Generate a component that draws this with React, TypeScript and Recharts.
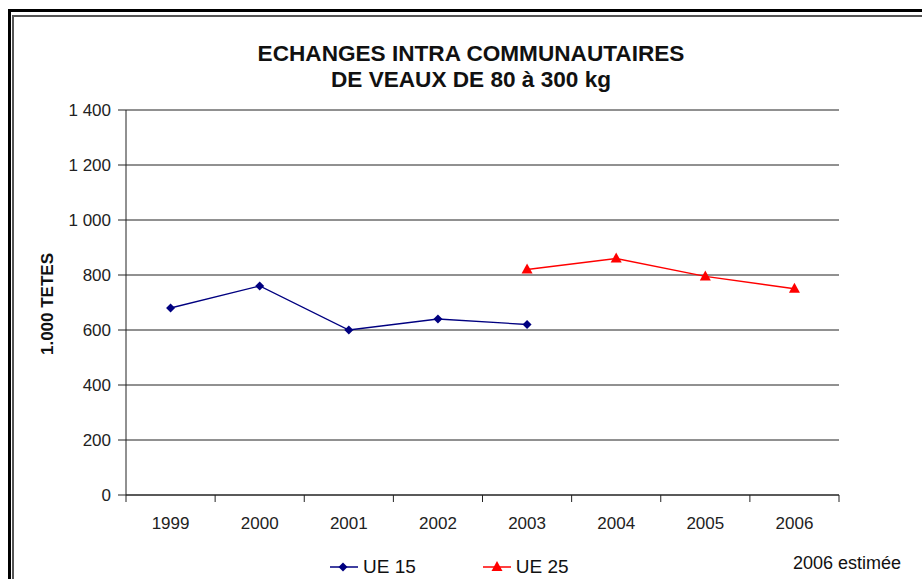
import React from 'react'
import { LineChart, Line, XAxis, YAxis, CartesianGrid } from 'recharts'

const years = ['1999', '2000', '2001', '2002', '2003', '2004', '2005', '2006']
const ue15 = [680, 760, 600, 640, 620, null, null, null]
const ue25 = [null, null, null, null, 820, 860, 795, 750]
const yTicks = [0, 200, 400, 600, 800, 1000, 1200, 1400]

const data = years.map((year, i) => ({ year, ue15: ue15[i], ue25: ue25[i] }))

const FONT = '"Liberation Sans", Arial, sans-serif'
const NAVY = '#000080'
const RED = '#FF0000'
const AXIS = '#222222'

const fmt = (v: number) => String(v).replace(/\B(?=(\d{3})+(?!\d))/g, ' ')

const Diamond = (p: any) => {
    const { cx, cy, value } = p
    if (cx == null || cy == null || value == null) return <g key={p.key} />
    const r = 4.5
    return (
        <path
            key={p.key}
            d={`M${cx},${cy - r}L${cx + r},${cy}L${cx},${cy + r}L${cx - r},${cy}Z`}
            fill={NAVY}
        />
    )
}

const Triangle = (p: any) => {
    const { cx, cy, value } = p
    if (cx == null || cy == null || value == null) return <g key={p.key} />
    return (
        <path
            key={p.key}
            d={`M${cx},${cy - 6}L${cx + 5.5},${cy + 4}L${cx - 5.5},${cy + 4}Z`}
            fill={RED}
        />
    )
}

// x labels with tick marks on the band edges, like the original
const XTick = (p: any) => {
    const { x, y, payload } = p
    const half = payload?.offset || 44.5
    const axisY = y - 22
    return (
        <g>
            {payload.index === 0 && (
                <line x1={x - half} x2={x - half} y1={axisY} y2={axisY + 7} stroke={AXIS} />
            )}
            <line x1={x + half} x2={x + half} y1={axisY} y2={axisY + 7} stroke={AXIS} />
            <text x={x} y={y} dy="0.71em" textAnchor="middle" fill="#222" fontSize={17} fontFamily={FONT}>
                {payload.value}
            </text>
        </g>
    )
}

export default function App() {
    return (
        <div style={{ position: 'absolute', left: 0, top: 0, width: 922, height: 579, background: '#fff', overflow: 'hidden', fontFamily: FONT }}>
            {/* frame */}
            <div style={{ position: 'absolute', left: 8, top: 9, width: 930, height: 2.5, background: '#000' }} />
            <div style={{ position: 'absolute', left: 8, top: 9, width: 2.5, height: 600, background: '#000' }} />
            <div style={{ position: 'absolute', left: 13, top: 15, width: 930, height: 1.5, background: '#555' }} />
            <div style={{ position: 'absolute', left: 12, top: 15, width: 1.5, height: 600, background: '#555' }} />

            <div style={{ position: 'absolute', left: 0, top: 41, width: 942, textAlign: 'center', fontSize: 22.6, fontWeight: 'bold', lineHeight: '26px', color: '#111' }}>
                ECHANGES INTRA COMMUNAUTAIRES
                <br />
                DE VEAUX DE 80 à 300 kg
            </div>

            <div style={{ position: 'absolute', left: 48, top: 304, transform: 'translate(-50%, -50%) rotate(-90deg)', fontSize: 17, fontWeight: 'bold', color: '#111', whiteSpace: 'nowrap' }}>
                1.000 TETES
            </div>

            <LineChart
                width={922}
                height={579}
                data={data}
                margin={{ top: 110, right: 83, bottom: 44, left: 66 }}
                style={{ position: 'absolute', left: 0, top: 0 }}
            >
                <CartesianGrid horizontal vertical={false} stroke={AXIS} strokeWidth={1} />
                <XAxis
                    dataKey="year"
                    scale="band"
                    height={40}
                    axisLine={{ stroke: AXIS, strokeWidth: 1 }}
                    tickLine={false}
                    tickSize={7}
                    tickMargin={15}
                    tick={<XTick />}
                    interval={0}
                />
                <YAxis
                    width={60}
                    domain={[0, 1400]}
                    ticks={yTicks}
                    tickFormatter={fmt}
                    axisLine={{ stroke: AXIS, strokeWidth: 1 }}
                    tickLine={{ stroke: AXIS }}
                    tickSize={8}
                    tickMargin={7}
                    tick={{ fill: '#222', fontSize: 17, fontFamily: FONT }}
                />
                <Line dataKey="ue15" stroke={NAVY} strokeWidth={1.3} dot={<Diamond />} activeDot={false} isAnimationActive={false} />
                <Line dataKey="ue25" stroke={RED} strokeWidth={1.3} dot={<Triangle />} activeDot={false} isAnimationActive={false} />
            </LineChart>

            {/* legend */}
            <div style={{ position: 'absolute', left: 329, top: 556, display: 'flex', alignItems: 'center', fontSize: 19, color: '#111', lineHeight: '22px' }}>
                <svg width={30} height={12}>
                    <line x1={1} x2={29} y1={6} y2={6} stroke={NAVY} strokeWidth={1.5} />
                    <path d="M14,1.5L18.5,6L14,10.5L9.5,6Z" fill={NAVY} />
                </svg>
                <span style={{ marginLeft: 4 }}>UE 15</span>
                <svg width={30} height={12} style={{ marginLeft: 66 }}>
                    <line x1={1} x2={29} y1={6} y2={6} stroke={RED} strokeWidth={1.5} />
                    <path d="M15,0L20.5,10L9.5,10Z" fill={RED} />
                </svg>
                <span style={{ marginLeft: 4 }}>UE 25</span>
            </div>

            <div style={{ position: 'absolute', left: 793, top: 553, fontSize: 18, color: '#111', whiteSpace: 'nowrap' }}>
                2006 estimée
            </div>
        </div>
    )
}
